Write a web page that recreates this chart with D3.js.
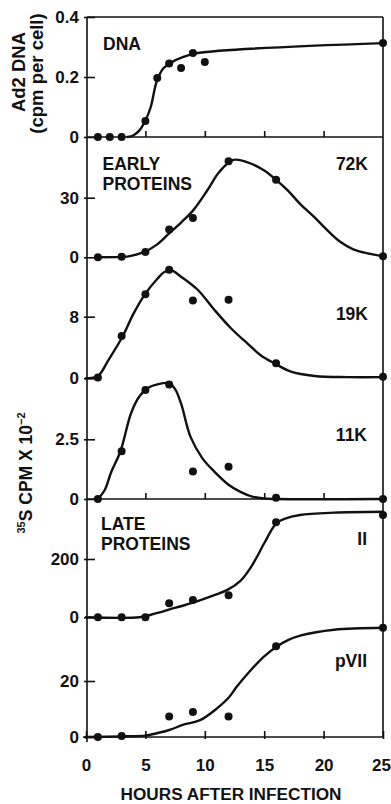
<!DOCTYPE html>
<html>
<head>
<meta charset="utf-8">
<script src="https://cdn.jsdelivr.net/npm/d3@7"></script>
<style>
  html, body { margin: 0; padding: 0; background: #fff; }
  svg { display: block; }
  text { font-family: "Liberation Sans", Arial, Helvetica, sans-serif; fill: #111; }
</style>
</head>
<body>
<svg id="chart" width="391" height="804"></svg>
<script>
// ---------------- DATA ----------------
const xTickValues = [0, 5, 10, 15, 20, 25];

// DNA panel
const dnaHours  = [1, 2, 3, 5, 6, 7, 8, 9, 10, 25];
const dnaValues = [0, 0, 0, 0.053, 0.197, 0.245, 0.23, 0.28, 0.25, 0.313];
const dnaCurveHours  = [3.5, 4, 4.5, 5, 5.45, 5.95, 6.5, 7.1, 8.2, 9.4, 25];
const dnaCurveValues = [0, 0.006, 0.022, 0.055, 0.1, 0.185, 0.228, 0.247, 0.267, 0.28, 0.313];

// Early proteins (sampled at the same hours)
const proteinHours = [1, 3, 5, 7, 9, 12, 16, 25];
const k72Values = [0, 0.3, 2.7, 14, 19.8, 48.3, 39, 0.5];
const k72CurveHours  = [1, 3, 3.7, 4.9, 6.0, 7.0, 8.0, 9.0, 10.2, 11.2, 12.4, 13.6, 15, 16, 17, 18, 19.2, 20.3, 21.4, 22.5, 23.7, 25];
const k72CurveValues = [0, 0.2, 0.6, 2.7, 6.5, 12, 17.5, 23.5, 33.6, 42.8, 49, 47.8, 43.7, 39, 33.6, 27, 20.3, 13.7, 7.8, 4, 2, 0.6];

const k19Values = [0.1, 5.5, 10.9, 14.1, 10.1, 10.2, 1.95, 0.2];
const k19CurveHours  = [0, 1, 1.9, 3.1, 4.0, 5.0, 6.05, 6.6, 7.2, 8.0, 9.4, 10.8, 12.2, 13.6, 14.7, 15.85, 17.25, 19.25, 22, 25];
const k19CurveValues = [0, 0.3, 2.4, 5.5, 8.4, 11, 13, 13.8, 14.0, 13.2, 11.5, 8.9, 6.5, 4.5, 3.0, 1.95, 0.86, 0.3, 0.15, 0.15];

const k11Values = [0, 2.0, 4.56, 4.8, 1.15, 1.35, 0.05, 0];
const k11CurveHours  = [1, 1.6, 2.1, 2.9, 3.8, 4.5, 5.2, 6, 7, 7.5, 8, 8.8, 9.8, 10.8, 12, 13, 14, 15, 16, 25];
const k11CurveValues = [0, 0.4, 1.1, 2.0, 3.6, 4.3, 4.65, 4.8, 4.85, 4.6, 4.0, 2.6, 1.7, 1.15, 0.6, 0.3, 0.1, 0.02, 0, 0];

// Late proteins
const iiValues = [0, 0, 0, 48, 59, 76, 326, 351];
const iiCurveHours  = [0, 4.5, 5.4, 6.2, 7.1, 8, 9, 10.4, 11.9, 13, 13.9, 15, 15.7, 16.1, 16.7, 18, 20.9, 25];
const iiCurveValues = [0, 0, 8, 17, 28, 38, 50, 70, 94, 125, 173, 254, 305, 326, 338, 351, 359, 362];

const pviiHours  = [1, 3, 7, 9, 12, 16, 25];
const pviiValues = [0, 0.4, 7.3, 8.9, 7.3, 32.4, 39];
const pviiCurveHours  = [0, 3, 5, 5.4, 7, 8.2, 9.6, 11.05, 12, 12.7, 13.9, 15, 16.1, 17, 18.1, 20.9, 25];
const pviiCurveValues = [0, 0.2, 0.5, 0.8, 2.5, 4.4, 6, 10.3, 14, 18, 24, 28.8, 32.4, 34.6, 36.3, 38.3, 39];

// ---------------- LAYOUT ----------------
const svg = d3.select("#chart");
const axisX = 87, rightX = 383, topY = 17, bottomY = 737;
const x = d3.scaleLinear().domain([0, 25]).range([86, 383]);

// each panel: zero pixel, tick value and its pixel
const panels = [
  { hours: dnaHours, values: dnaValues, ch: dnaCurveHours, cv: dnaCurveValues,
    ticks: [0, 0.2, 0.4], fmt: d => d === 0 ? "0" : d.toFixed(1), y0: 137, tv: 0.4, ty: 17 },
  { hours: proteinHours, values: k72Values, ch: k72CurveHours, cv: k72CurveValues,
    ticks: [0, 30], fmt: d3.format("d"), y0: 257.3, tv: 30, ty: 197.7 },
  { hours: proteinHours, values: k19Values, ch: k19CurveHours, cv: k19CurveValues,
    ticks: [0, 8], fmt: d3.format("d"), y0: 378.3, tv: 8, ty: 316.7 },
  { hours: proteinHours, values: k11Values, ch: k11CurveHours, cv: k11CurveValues,
    ticks: [0, 2.5], fmt: d => d === 0 ? "0" : String(d), y0: 499, tv: 2.5, ty: 439.3 },
  { hours: proteinHours, values: iiValues, ch: iiCurveHours, cv: iiCurveValues,
    ticks: [0, 200], fmt: d3.format("d"), y0: 617.3, tv: 200, ty: 559 },
  { hours: pviiHours, values: pviiValues, ch: pviiCurveHours, cv: pviiCurveValues,
    ticks: [0, 20], fmt: d3.format("d"), y0: 737, tv: 20, ty: 681 }
];

// ---------------- FRAME ----------------
const frame = svg.append("g").attr("stroke", "#111").attr("stroke-width", 1.6).attr("fill", "none");
frame.append("line").attr("x1", axisX).attr("x2", axisX).attr("y1", topY).attr("y2", bottomY + 5);
frame.append("line").attr("x1", axisX).attr("x2", rightX).attr("y1", topY).attr("y2", topY);
frame.append("line").attr("x1", rightX).attr("x2", rightX).attr("y1", topY).attr("y2", bottomY);
frame.append("line").attr("x1", 83).attr("x2", rightX).attr("y1", bottomY).attr("y2", bottomY);
[137, 499].forEach(yy => {
  frame.append("line").attr("x1", axisX).attr("x2", rightX).attr("y1", yy).attr("y2", yy);
});

// internal x tick marks on separators
[137, 499].forEach(yy => {
  const g = svg.append("g").attr("transform", `translate(0,${yy})`)
    .call(d3.axisBottom(x).tickValues([5, 10, 15, 20]).tickSize(-6).tickFormat(""));
  g.select(".domain").remove();
  g.selectAll(".tick line").attr("stroke", "#111").attr("stroke-width", 1.6);
});

// bottom x axis
const xg = svg.append("g").attr("transform", `translate(0,${bottomY})`)
  .call(d3.axisBottom(x).tickValues(xTickValues).tickSize(-6).tickPadding(22).tickFormat(d3.format("d")));
xg.select(".domain").remove();
xg.selectAll(".tick line").attr("stroke", "#111").attr("stroke-width", 1.6).attr("y1", 2);
xg.selectAll(".tick text").attr("font-size", 17).attr("font-weight", "bold").attr("fill", "#111")
  .attr("font-family", '"Liberation Sans", Arial, sans-serif')
  .attr("dx", d => d === 25 ? -2 : 0);

// ---------------- PANELS ----------------
panels.forEach(p => {
  const y = d3.scaleLinear().domain([0, p.tv]).range([p.y0, p.ty]);

  const yg = svg.append("g").attr("transform", `translate(${axisX},0)`)
    .call(d3.axisLeft(y).tickValues(p.ticks).tickSize(-8).tickPadding(8).tickFormat(p.fmt));
  yg.select(".domain").remove();
  yg.selectAll(".tick line").attr("stroke", "#111").attr("stroke-width", 1.6).attr("x1", -3);
  yg.selectAll(".tick text").attr("font-size", 17).attr("font-weight", "bold").attr("fill", "#111")
    .attr("font-family", '"Liberation Sans", Arial, sans-serif');

  const curve = p.ch.map((h, i) => [h, p.cv[i]]);
  svg.append("path")
    .datum(curve)
    .attr("fill", "none").attr("stroke", "#111").attr("stroke-width", 2.4)
    .attr("stroke-linejoin", "round").attr("stroke-linecap", "round")
    .attr("d", d3.line().x(d => x(d[0])).y(d => y(d[1])).curve(d3.curveCatmullRom.alpha(0.5)));

  svg.append("g").selectAll("circle")
    .data(p.hours.map((h, i) => [h, p.values[i]]))
    .join("circle")
    .attr("cx", d => x(d[0])).attr("cy", d => y(d[1])).attr("r", 4).attr("fill", "#111");
});

// ---------------- TEXT LABELS ----------------
function label(txt, xx, yy, anchor) {
  svg.append("text").attr("x", xx).attr("y", yy).attr("font-size", 17.5).attr("font-weight", "bold")
    .attr("text-anchor", anchor || "start").text(txt);
}
label("DNA", 103, 49.5);
label("EARLY", 102.5, 170);
label("PROTEINS", 102.5, 190);
label("72K", 368, 170, "end");
label("19K", 368, 320, "end");
label("11K", 367, 440.5, "end");
label("LATE", 101, 530);
label("PROTEINS", 101, 549.5);
label("II", 367, 545, "end");
label("pVII", 367, 666.5, "end");

svg.append("text").attr("x", 231).attr("y", 800).attr("font-size", 17.2).attr("font-weight", "bold")
  .attr("text-anchor", "middle").text("HOURS AFTER INFECTION");

svg.append("text").attr("transform", "translate(25,72) rotate(-90)").attr("font-size", 18.5)
  .attr("font-weight", "bold").attr("text-anchor", "middle").text("Ad2 DNA");
svg.append("text").attr("transform", "translate(42.5,73.5) rotate(-90)").attr("font-size", 18.5)
  .attr("font-weight", "bold").attr("text-anchor", "middle").text("(cpm per cell)");

const cpm = svg.append("text").attr("transform", "translate(32,473) rotate(-90)").attr("font-size", 17.5)
  .attr("font-weight", "bold").attr("text-anchor", "middle");
cpm.append("tspan").attr("font-size", 11).attr("dy", -7).text("35");
cpm.append("tspan").attr("dy", 7).text("S CPM X 10");
cpm.append("tspan").attr("font-size", 11).attr("dy", -7).text("−2");
</script>
</body>
</html>
